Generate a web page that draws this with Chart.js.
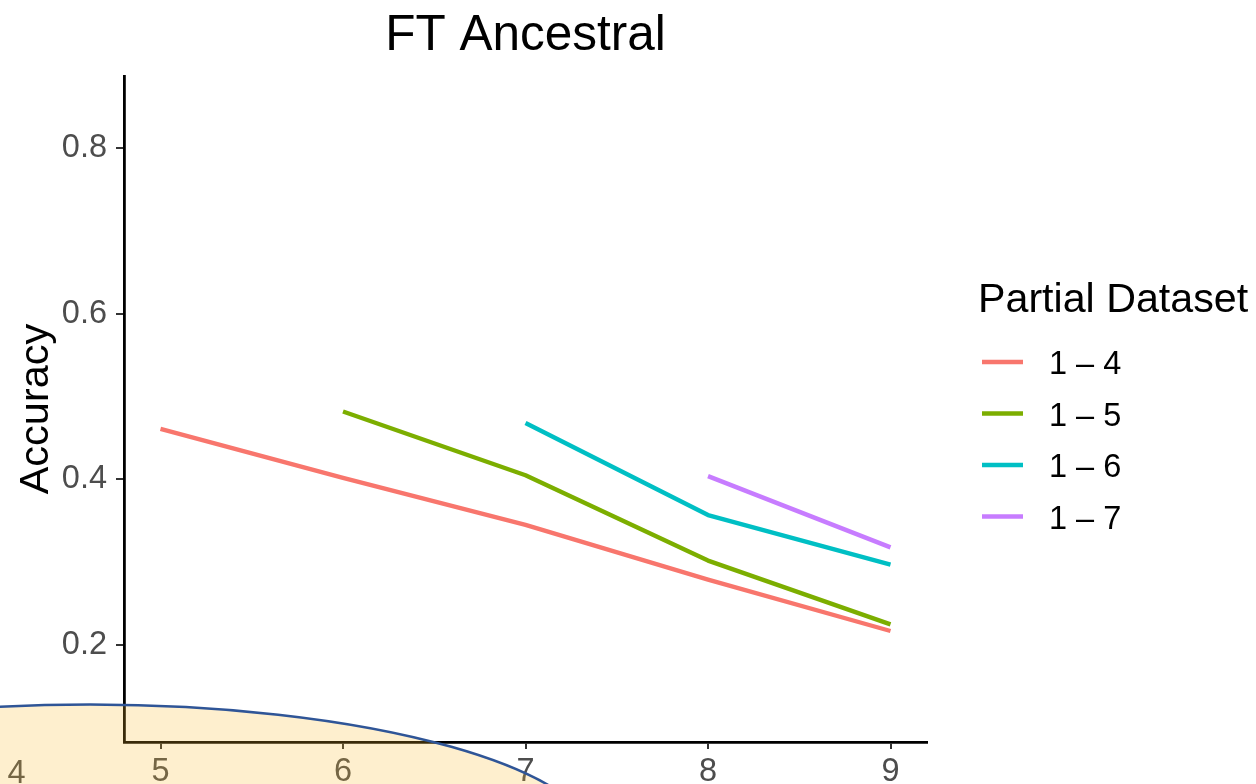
<!DOCTYPE html>
<html>
<head>
<meta charset="utf-8">
<script src="https://cdn.jsdelivr.net/npm/chart.js@4/dist/chart.umd.min.js"></script>
<style>
  html, body { margin: 0; padding: 0; background: #ffffff; }
  #wrap { width: 1256px; height: 784px; position: relative; }
</style>
</head>
<body>
<div id="wrap"><canvas id="c" width="1256" height="784"></canvas></div>
<script>
// ---- data ----
const xValues = [5, 6, 7, 8, 9];
const series_1_4 = [0.461, 0.402, 0.345, 0.279, 0.217];
const series_1_5 = [null, 0.482, 0.405, 0.302, 0.225];
const series_1_6 = [null, null, 0.468, 0.357, 0.297];
const series_1_7 = [null, null, null, 0.404, 0.318];
const seriesLabels = ['1 \u2013 4', '1 \u2013 5', '1 \u2013 6', '1 \u2013 7'];
const seriesColors = ['#F8766D', '#7CAE00', '#00BFC4', '#C77CFF'];
const xTicks = [5, 6, 7, 8, 9];
const yTicks = [0.2, 0.4, 0.6, 0.8];
const titleText = 'FT Ancestral';
const yTitleText = 'Accuracy';
const legendTitleText = 'Partial Dataset';
const extraLabelText = '4';

const FONT = '"Liberation Sans", Arial, Helvetica, sans-serif';

const allSeries = [series_1_4, series_1_5, series_1_6, series_1_7];
const datasets = allSeries.map((s, k) => ({
  label: seriesLabels[k],
  data: xValues.map((x, i) => ({ x: x, y: s[i] })).filter(p => p.y !== null),
  borderColor: seriesColors[k],
  backgroundColor: seriesColors[k],
  borderWidth: 4.4,
  pointRadius: 0,
  pointHoverRadius: 0,
  tension: 0,
  borderCapStyle: 'butt',
  borderJoinStyle: 'round',
  fill: false
}));

const decor = {
  id: 'decor',
  afterDraw(chart) {
    const ctx = chart.ctx;
    const ca = chart.chartArea;
    ctx.save();
    // title
    ctx.fillStyle = '#000';
    ctx.font = '49.5px ' + FONT;
    ctx.textAlign = 'center';
    ctx.textBaseline = 'alphabetic';
    ctx.fillText(titleText, (ca.left + ca.right) / 2, 50);
    // y title
    ctx.save();
    ctx.translate(48, (ca.top + ca.bottom) / 2);
    ctx.rotate(-Math.PI / 2);
    ctx.font = '41.5px ' + FONT;
    ctx.textAlign = 'center';
    ctx.textBaseline = 'alphabetic';
    ctx.fillText(yTitleText, 0, 0);
    ctx.restore();
    // legend
    ctx.font = '41.2px ' + FONT;
    ctx.textAlign = 'left';
    ctx.fillText(legendTitleText, 978, 312);
    chart.data.datasets.forEach((ds, i) => {
      const ly = 362 + i * 51.5;
      ctx.strokeStyle = ds.borderColor;
      ctx.lineWidth = 4.4;
      ctx.lineCap = 'butt';
      ctx.beginPath();
      ctx.moveTo(982, ly);
      ctx.lineTo(1023, ly);
      ctx.stroke();
      ctx.fillStyle = '#000';
      ctx.font = '32.5px ' + FONT;
      ctx.fillText(ds.label, 1049, ly + 12);
    });
    // stray tick-like label
    ctx.fillStyle = '#4D4D4D';
    ctx.font = '32.5px ' + FONT;
    ctx.textAlign = 'center';
    ctx.fillText(extraLabelText, 16.5, 783);
    // overlay ellipse
    ctx.beginPath();
    ctx.ellipse(90, 849, 511, 144.5, 0, 0, Math.PI * 2);
    ctx.fillStyle = 'rgba(250, 185, 45, 0.23)';
    ctx.fill();
    ctx.strokeStyle = '#2F5597';
    ctx.lineWidth = 2.5;
    ctx.stroke();
    ctx.restore();
  }
};

new Chart(document.getElementById('c'), {
  type: 'line',
  data: { datasets: datasets },
  options: {
    responsive: false,
    animation: false,
    devicePixelRatio: 1,
    layout: { padding: { top: 76, right: 329, left: 0, bottom: 0 } },
    plugins: {
      legend: { display: false },
      title: { display: false },
      tooltip: { enabled: false }
    },
    scales: {
      x: {
        type: 'linear',
        min: 4.8,
        max: 9.2,
        afterBuildTicks: s => { s.ticks = xTicks.map(v => ({ value: v })); },
        afterFit: s => { s.height = 42; },
        grid: { drawOnChartArea: false, drawTicks: true, tickLength: 7, color: '#333333', lineWidth: 2 },
        border: { display: true, color: '#000000', width: 2.8 },
        ticks: {
          autoSkip: false, maxRotation: 0, padding: 4,
          color: '#4D4D4D', font: { family: FONT, size: 32.5 },
          callback: v => String(v)
        }
      },
      y: {
        type: 'linear',
        min: 0.083,
        max: 0.887,
        afterBuildTicks: s => { s.ticks = yTicks.map(v => ({ value: v })); },
        afterFit: s => { s.width = 124; },
        grid: { drawOnChartArea: false, drawTicks: true, tickLength: 8, color: '#333333', lineWidth: 2 },
        border: { display: true, color: '#000000', width: 2.8 },
        ticks: {
          autoSkip: false, padding: 9,
          color: '#4D4D4D', font: { family: FONT, size: 32.5 },
          callback: v => Number(v).toFixed(1)
        }
      }
    }
  },
  plugins: [decor]
});
</script>
</body>
</html>
